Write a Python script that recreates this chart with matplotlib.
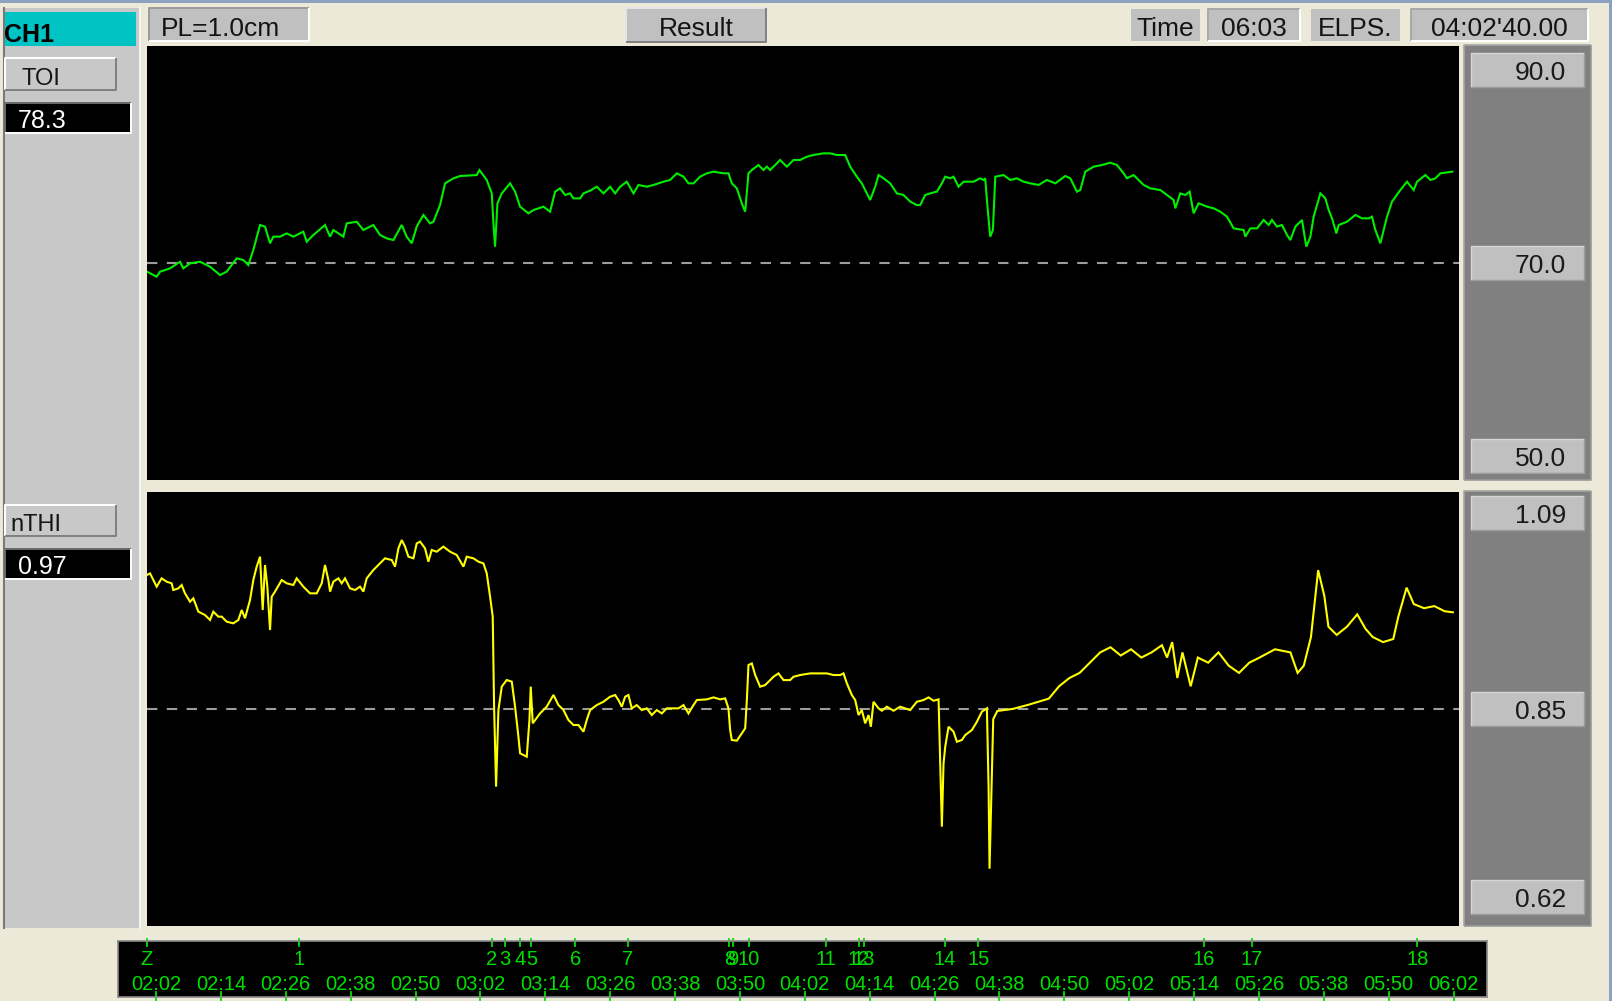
import matplotlib
matplotlib.use("Agg")
import matplotlib.pyplot as plt
from matplotlib.patches import Rectangle

plt.rcParams['font.family'] = ['Liberation Sans', 'DejaVu Sans']

# ---------------------------------------------------------------- data
# TOI trend (%) : time in minutes after midnight, value
TOI_T = [
    120.33, 122.12, 122.74, 124.59, 126.44, 127.05, 128.29, 130.14, 131.99, 133.84,
    135.07, 136.92, 138.15, 139.08, 140.00, 141.24, 142.16, 143.09, 143.70, 144.94,
    146.17, 147.40, 149.25, 149.87, 151.10, 153.26, 154.19, 154.80, 156.65, 157.27,
    159.12, 160.35, 162.20, 163.44, 164.67, 165.91, 167.45, 168.37, 169.30, 170.22,
    171.45, 172.69, 173.31, 174.54, 175.46, 177.01, 178.24, 181.32, 181.82, 183.17,
    184.10, 184.41, 184.71, 185.15, 185.95, 187.49, 188.41, 189.34, 190.88, 191.81,
    193.66, 194.89, 195.82, 196.74, 197.67, 198.59, 199.21, 200.44, 201.06, 202.29,
    203.52, 204.76, 205.99, 206.92, 207.84, 209.07, 210.31, 211.23, 212.77, 214.01,
    215.86, 217.09, 218.33, 219.56, 220.48, 221.41, 222.64, 223.88, 225.11, 226.96,
    227.88, 228.50, 229.43, 230.35, 230.97, 231.58, 232.20, 233.43, 234.36, 234.98,
    235.59, 237.44, 238.68, 239.91, 241.14, 242.38, 243.61, 245.46, 246.69, 247.93,
    249.47, 250.39, 251.63, 252.55, 254.09, 255.02, 255.64, 256.56, 257.79, 259.03,
    260.26, 261.50, 262.73, 263.35, 264.27, 265.20, 266.43, 267.35, 267.97, 268.90,
    269.51, 270.44, 271.36, 273.21, 274.45, 275.06, 275.37, 275.81, 276.30, 276.79,
    277.04, 277.23, 278.77, 280.00, 281.23, 282.47, 283.70, 285.24, 286.78, 288.33,
    290.18, 291.10, 292.33, 292.95, 293.88, 295.42, 296.96, 298.50, 299.73, 300.97,
    301.58, 302.82, 304.67, 305.90, 307.75, 308.99, 310.22, 310.53, 311.45, 312.38,
    313.18, 313.92, 314.84, 316.39, 317.62, 318.85, 320.09, 321.32, 323.17, 323.48,
    324.40, 325.64, 326.87, 327.80, 328.41, 329.34, 330.26, 331.19, 331.80, 332.73,
    333.96, 334.76, 335.51, 336.12, 337.36, 338.28, 338.90, 339.51, 340.32, 340.75,
    342.29, 343.83, 345.06, 346.30, 346.91, 347.53, 348.45, 349.69, 350.61, 352.16,
    353.39, 354.62, 355.24, 356.78, 357.71, 358.63, 359.56, 361.77,
]
TOI_V = [
    69.07, 68.55, 69.07, 69.41, 70.10, 69.41, 69.93, 70.10, 69.59, 68.72,
    69.07, 70.45, 70.28, 69.76, 71.32, 73.91, 73.74, 72.01, 72.70, 72.70,
    73.04, 72.70, 73.22, 72.18, 72.87, 73.91, 72.70, 73.39, 72.70, 74.08,
    74.25, 73.39, 73.91, 72.87, 72.53, 72.35, 73.91, 72.70, 72.01, 73.74,
    74.95, 74.08, 74.25, 75.98, 78.23, 78.75, 78.99, 79.09, 79.61, 78.58,
    77.19, 74.08, 71.66, 76.16, 77.19, 78.23, 77.37, 75.81, 75.12, 75.46,
    75.81, 75.29, 77.37, 77.71, 77.02, 77.19, 76.67, 76.67, 77.19, 77.47,
    77.88, 77.19, 77.88, 77.19, 77.88, 78.40, 77.19, 78.06, 77.88, 78.06,
    78.40, 78.58, 79.27, 78.92, 78.23, 78.23, 78.92, 79.27, 79.44, 79.27,
    79.27, 78.23, 77.71, 76.16, 75.29, 79.27, 79.61, 80.13, 79.61, 79.96,
    79.61, 80.65, 79.96, 80.65, 80.65, 80.99, 81.17, 81.34, 81.34, 81.17,
    81.17, 79.96, 78.92, 78.23, 76.50, 77.88, 79.09, 78.75, 78.23, 77.19,
    77.02, 76.33, 75.98, 75.98, 77.02, 77.19, 77.37, 78.23, 78.92, 78.75,
    78.92, 77.88, 78.40, 78.40, 78.75, 78.58, 78.75, 75.64, 72.70, 73.39,
    76.50, 78.92, 79.09, 78.58, 78.75, 78.40, 78.23, 78.06, 78.58, 78.23,
    78.99, 78.75, 77.37, 77.54, 79.44, 79.96, 80.13, 80.37, 80.13, 79.27,
    78.75, 79.09, 78.06, 77.71, 77.54, 77.02, 76.50, 75.64, 77.19, 77.02,
    77.37, 75.12, 76.16, 75.81, 75.64, 75.29, 74.77, 73.56, 73.39, 72.70,
    73.56, 73.56, 74.43, 73.91, 74.43, 73.74, 73.91, 72.87, 72.35, 73.74,
    74.43, 71.66, 72.70, 74.77, 77.19, 76.67, 75.46, 74.60, 73.04, 73.91,
    74.25, 74.95, 74.60, 74.60, 74.77, 73.39, 72.01, 74.77, 76.33, 77.54,
    78.40, 77.54, 78.40, 79.09, 78.58, 78.75, 79.27, 79.44,
]

# nTHI trend : time in minutes after midnight, value
NTHI_T = [
    120.33, 120.89, 121.50, 122.12, 123.04, 123.97, 124.89, 125.20, 126.13, 126.74,
    127.36, 128.29, 128.90, 129.83, 131.06, 131.99, 132.60, 133.53, 134.15, 135.07,
    136.30, 137.23, 137.85, 138.46, 139.39, 140.00, 140.62, 141.24, 141.73, 142.16,
    142.59, 143.09, 143.40, 144.01, 145.24, 146.17, 147.40, 148.02, 149.25, 150.49,
    151.72, 152.65, 153.26, 153.88, 154.19, 154.80, 155.73, 156.35, 156.96, 157.89,
    158.81, 159.74, 160.35, 160.97, 162.20, 163.44, 164.36, 165.60, 166.21, 166.83,
    167.45, 168.06, 168.68, 169.61, 170.22, 170.84, 171.76, 172.38, 172.99, 173.92,
    175.15, 176.39, 177.62, 178.86, 179.47, 180.71, 181.63, 182.56, 183.17, 183.79,
    184.28, 184.53, 184.90, 185.33, 185.95, 186.87, 187.80, 188.41, 189.03, 189.34,
    190.57, 191.07, 191.31, 191.68, 192.12, 193.04, 194.27, 195.51, 196.43, 197.36,
    198.28, 199.21, 200.13, 201.06, 201.67, 202.29, 203.52, 204.76, 205.99, 206.92,
    207.53, 208.15, 208.77, 209.38, 210.00, 210.92, 211.85, 212.77, 213.70, 214.62,
    215.55, 216.47, 218.63, 219.56, 220.48, 221.41, 222.03, 223.88, 225.11, 226.34,
    227.27, 227.88, 228.19, 228.50, 229.43, 230.35, 230.97, 231.28, 231.58, 232.20,
    232.82, 233.74, 234.67, 235.29, 236.21, 237.13, 238.06, 239.29, 239.91, 241.14,
    243.00, 244.84, 246.08, 247.31, 248.54, 249.16, 249.78, 250.70, 251.32, 251.94,
    252.55, 253.17, 253.79, 254.22, 254.71, 255.64, 256.25, 257.18, 258.41, 259.64,
    261.50, 262.73, 263.96, 264.89, 265.81, 266.74, 267.05, 267.35, 267.66, 267.97,
    268.59, 269.51, 270.13, 271.05, 271.67, 272.90, 273.83, 274.75, 275.37, 275.68,
    275.99, 276.17, 276.85, 277.61, 280.47, 283.32, 287.13, 289.03, 290.93, 292.83,
    294.73, 296.63, 298.54, 300.44, 302.34, 304.24, 306.14, 308.05, 309.00, 309.95,
    310.90, 311.85, 313.37, 314.70, 316.61, 318.51, 320.41, 322.31, 324.21, 326.11,
    328.97, 331.82, 333.15, 334.29, 335.62, 336.95, 338.09, 338.85, 340.38, 342.28,
    344.18, 345.70, 347.03, 348.94, 350.84, 351.79, 353.31, 354.64, 356.54, 358.44,
    360.34, 361.86,
]
NTHI_V = [
    1.0140, 1.0160, 1.0078, 0.9997, 1.0099, 1.0058, 1.0038, 0.9956, 0.9976, 1.0017,
    0.9915, 0.9813, 0.9854, 0.9691, 0.9650, 0.9589, 0.9691, 0.9630, 0.9630, 0.9568,
    0.9548, 0.9589, 0.9711, 0.9610, 0.9834, 1.0078, 1.0242, 1.0364, 0.9711, 1.0262,
    0.9997, 0.9466, 0.9874, 0.9936, 1.0078, 1.0038, 1.0017, 1.0099, 0.9997, 0.9915,
    0.9915, 1.0038, 1.0262, 1.0078, 0.9936, 1.0058, 1.0099, 1.0038, 1.0099, 0.9976,
    0.9956, 0.9997, 0.9936, 1.0099, 1.0201, 1.0282, 1.0344, 1.0323, 1.0242, 1.0466,
    1.0568, 1.0487, 1.0364, 1.0344, 1.0527, 1.0548, 1.0466, 1.0303, 1.0446, 1.0425,
    1.0487, 1.0425, 1.0385, 1.0242, 1.0364, 1.0344, 1.0303, 1.0282, 1.0160, 0.9874,
    0.9630, 0.8528, 0.7548, 0.8487, 0.8773, 0.8854, 0.8834, 0.8528, 0.8160, 0.7956,
    0.7915, 0.8364, 0.8773, 0.8324, 0.8364, 0.8446, 0.8528, 0.8671, 0.8548, 0.8487,
    0.8364, 0.8303, 0.8303, 0.8221, 0.8364, 0.8486, 0.8547, 0.8588, 0.8649, 0.8670,
    0.8609, 0.8527, 0.8649, 0.8670, 0.8507, 0.8547, 0.8486, 0.8507, 0.8425, 0.8486,
    0.8445, 0.8507, 0.8507, 0.8547, 0.8445, 0.8547, 0.8609, 0.8617, 0.8641, 0.8617,
    0.8629, 0.8507, 0.8241, 0.8119, 0.8111, 0.8200, 0.8262, 0.8609, 0.9037, 0.9057,
    0.8915, 0.8772, 0.8792, 0.8833, 0.8894, 0.8935, 0.8853, 0.8853, 0.8894, 0.8915,
    0.8935, 0.8935, 0.8935, 0.8915, 0.8915, 0.8935, 0.8813, 0.8670, 0.8609, 0.8425,
    0.8486, 0.8323, 0.8425, 0.8282, 0.8588, 0.8507, 0.8478, 0.8527, 0.8478, 0.8527,
    0.8486, 0.8588, 0.8609, 0.8641, 0.8600, 0.8617, 0.7833, 0.7058, 0.7833, 0.8037,
    0.8282, 0.8221, 0.8098, 0.8119, 0.8180, 0.8241, 0.8343, 0.8466, 0.8494, 0.8507,
    0.7548, 0.6543, 0.8374, 0.8475, 0.8500, 0.8550, 0.8626, 0.8777, 0.8878, 0.8941,
    0.9066, 0.9192, 0.9255, 0.9154, 0.9230, 0.9129, 0.9192, 0.9280, 0.9129, 0.9318,
    0.8878, 0.9192, 0.8777, 0.9129, 0.9066, 0.9192, 0.9029, 0.8941, 0.9066, 0.9129,
    0.9230, 0.9192, 0.8941, 0.9029, 0.9381, 1.0199, 0.9884, 0.9507, 0.9406, 0.9507,
    0.9658, 0.9482, 0.9381, 0.9318, 0.9356, 0.9633, 0.9985, 0.9784, 0.9733, 0.9759,
    0.9696, 0.9683,
]

# event marks (minutes after midnight) and their labels
EVENT_T = [120.33, 148.40, 184.10, 186.60, 189.30, 191.45, 199.52, 209.21, 228.05,
           228.75, 231.63, 245.97, 251.99, 252.90, 267.86, 274.06, 315.78, 324.70,
           355.30]
EVENT_LABELS = ["Z", "1", "2", "3", "4", "5", "6", "7", "8", "9", "10", "11", "12",
                "13", "14", "15", "16", "17", "18"]

TIME_LABELS = ["02:02", "02:14", "02:26", "02:38", "02:50", "03:02", "03:14", "03:26",
               "03:38", "03:50", "04:02", "04:14", "04:26", "04:38", "04:50", "05:02",
               "05:14", "05:26", "05:38", "05:50", "06:02"]

TOI_SCALE = [90.0, 70.0, 50.0]
NTHI_SCALE = [1.09, 0.85, 0.62]
TOI_REF = 70.0
NTHI_REF = 0.85
TOI_LIM = (47.47, 92.47)
NTHI_LIM = (0.5842, 1.1156)
TOI_NOW = 78.3
NTHI_NOW = 0.97

START_MIN = 2 * 60 + 20 / 60      # 02:00'20
END_MIN = 6 * 60 + 3              # 06:03
CLOCK = "06:03"
ELAPSED = "04:02'40.00"
PATH_LENGTH = "PL=1.0cm"

# ---------------------------------------------------------------- canvas
W, H = 1612, 1001
BEIGE = '#ECE9D8'
PANEL = '#C8C8C8'
BTN = '#C0C0C0'
DARK = '#808080'
GREEN = '#00EE00'
YELLOW = '#FFFF00'
STRIP_GREEN = '#00E000'

fig = plt.figure(figsize=(W / 100, H / 100), dpi=100, facecolor=BEIGE)
ui = fig.add_axes([0, 0, 1, 1])
ui.set_xlim(0, W)
ui.set_ylim(H, 0)
ui.set_axis_off()
ui.set_autoscale_on(False)
ui.set_zorder(0)


def rect(x0, y0, x1, y1, fc, z=1):
    ui.add_patch(Rectangle((x0, y0), x1 - x0, y1 - y0, facecolor=fc,
                           edgecolor='none', zorder=z))


def bevel(x0, y0, x1, y1, tl, br, lw=1.4, z=2):
    ui.plot([x0, x0, x1], [y1, y0, y0], color=tl, lw=lw, zorder=z,
            solid_capstyle='butt')
    ui.plot([x0, x1, x1], [y1, y1, y0], color=br, lw=lw, zorder=z,
            solid_capstyle='butt')


def label(x, y, s, size, color='#141414', ha='left', weight='normal'):
    ui.text(x, y, s, fontsize=size, color=color, ha=ha, va='baseline',
            fontweight=weight, zorder=3)


def px_axes(x0, y0, x1, y1):
    return fig.add_axes([x0 / W, 1 - y1 / H, (x1 - x0) / W, (y1 - y0) / H])


# window frame
rect(0, 0, W, 2.5, '#8DA2C0')
rect(W - 3.5, 0, W, H, '#8DA2C0')

# header row
rect(149, 8, 309, 41, BTN)
bevel(149, 8, 309, 41, '#9A9A9A', '#FFFFFF')
label(161, 36, PATH_LENGTH, 19)

rect(626, 8, 766, 42, BTN)
bevel(626, 8, 766, 42, '#E4E4E4', DARK)
label(696, 36, "Result", 19, ha='center')

for x0, x1, txt, sunken in [(1131, 1200, "Time", False),
                            (1208, 1300, CLOCK, True),
                            (1311, 1400, "ELPS.", False),
                            (1411, 1588, ELAPSED, True)]:
    rect(x0, 9, x1, 41, BTN)
    if sunken:
        bevel(x0, 9, x1, 41, '#A8A8A8', '#FFFFFF')
    label((x0 + x1) / 2, 36, txt, 19, ha='center')

# left channel panel
rect(3, 8, 141, 928, PANEL)
ui.plot([3.5, 3.5], [8, 928], color='#7A7A7A', lw=1.5, zorder=2)
ui.plot([140, 140], [8, 928], color='#F4F4F4', lw=1.5, zorder=2)

rect(3, 12, 136, 46, '#00C4C4')
label(4, 42, "CH1", 18, color='#000000', weight='bold')

for (y0, y1, name, val_y0, val_y1, val) in [
        (58, 90, "TOI", 103, 133, f"{TOI_NOW:.1f}"),
        (505, 536, "nTHI", 549, 579, f"{NTHI_NOW:.2f}")]:
    rect(5, y0, 116, y1, PANEL)
    bevel(5, y0, 116, y1, '#FFFFFF', DARK)
    label(21 if name == "TOI" else 10, y1 - 5, name, 17)
    rect(5, val_y0, 131, val_y1, '#000000')
    bevel(5, val_y0, 131, val_y1, '#6A6A6A', '#FFFFFF')
    label(18, val_y1 - 5, val, 18, color='#FFFFFF')

# ---------------------------------------------------------------- traces
PLOT_X0, PLOT_X1 = 147, 1459
panels = [
    (46, 480, TOI_T, TOI_V, GREEN, TOI_LIM, TOI_REF, TOI_SCALE, "{:.1f}"),
    (492, 926, NTHI_T, NTHI_V, YELLOW, NTHI_LIM, NTHI_REF, NTHI_SCALE, "{:.2f}"),
]
for (y0, y1, t, v, color, lim, ref, scale, fmt) in panels:
    ax = px_axes(PLOT_X0, y0, PLOT_X1, y1)
    ax.set_facecolor('#000000')
    ax.set_xlim(START_MIN, END_MIN)
    ax.set_ylim(*lim)
    ax.set_xticks([])
    ax.set_yticks([])
    for sp in ax.spines.values():
        sp.set_visible(False)
    ax.axhline(ref, color='#9C9C9C', lw=1.5, ls=(0, (5, 4.5)), zorder=1)
    ax.plot(t, v, color=color, lw=1.5, zorder=2, solid_joinstyle='miter')

    # scale panel on the right
    rect(1464, y0 - 1, 1591, y1, DARK)
    bevel(1464, y0 - 1, 1591, y1, '#A6A6A6', '#9A9A9A', lw=1.2)
    for s in scale:
        yc = H - ax.transData.transform((START_MIN, s))[1]
        rect(1471, yc - 17, 1584, yc + 17, BTN, z=2)
        bevel(1471, yc - 17, 1584, yc + 17, '#D6D6D6', '#9C9C9C', lw=1.0, z=2)
        label(1566, yc + 10, fmt.format(s), 19, color='#1A1A1A', ha='right')

# ---------------------------------------------------------------- time strip
SX0, SY0, SX1, SY1 = 118, 941, 1487, 997
ppm = (PLOT_X1 - PLOT_X0) / (END_MIN - START_MIN)
strip = px_axes(SX0, SY0, SX1, SY1)
strip.set_facecolor('#000000')
strip.set_xlim(START_MIN - (PLOT_X0 - SX0) / ppm, END_MIN + (SX1 - PLOT_X1) / ppm)
strip.set_ylim(SY1 - SY0, 0)
strip.set_xticks([])
strip.set_yticks([])
for sp in strip.spines.values():
    sp.set_color('#8A8A8A')
    sp.set_linewidth(1.2)

for t_ev, lab in zip(EVENT_T, EVENT_LABELS):
    strip.plot([t_ev, t_ev], [-2, 5], color=STRIP_GREEN, lw=1.3, clip_on=False)
    strip.text(t_ev, 24, lab, color=STRIP_GREEN, fontsize=14.5, ha='center',
               va='baseline')

for lab in TIME_LABELS:
    hh, mm = lab.split(":")
    t_tick = int(hh) * 60 + int(mm)
    strip.plot([t_tick, t_tick], [51, 59], color=STRIP_GREEN, lw=1.3, clip_on=False)
    strip.text(t_tick, 49, lab, color=STRIP_GREEN, fontsize=14.5, ha='center',
               va='baseline')

fig.savefig("out.png", dpi=100, facecolor=BEIGE)
